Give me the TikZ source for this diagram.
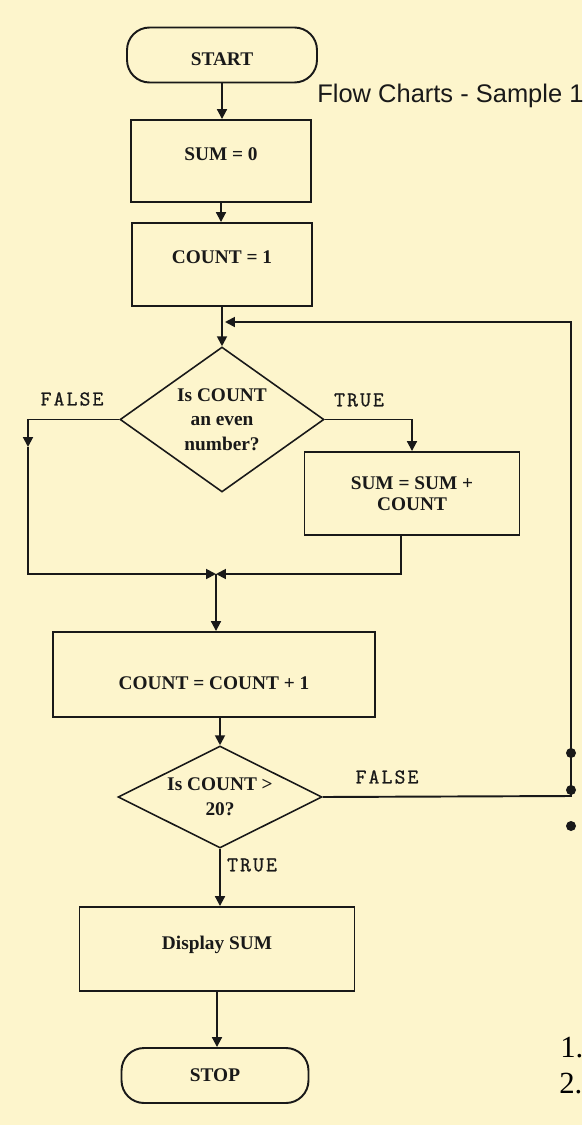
\documentclass[tikz,border=0pt]{standalone}
\usepackage{fontspec}
\setmainfont{Liberation Serif}
\newfontfamily\titlefont{Liberation Sans}
\newfontfamily\labelfont{Latin Modern Mono}[LetterSpace=10,FakeBold=1]
\usetikzlibrary{shapes.geometric,arrows.meta}
\definecolor{paper}{RGB}{253,245,204}
\definecolor{ink}{RGB}{25,25,25}
\tikzset{
	line/.style={draw=ink,line width=1.1pt},
	flow/.style={line,-{Triangle[width=5.6pt,length=5.6pt]}},
	block/.style={draw=ink,line width=1.1pt,inner sep=0pt,text=ink,font=\fontsize{11}{14}\selectfont\bfseries},
	box/.style={block,rectangle,text height=7.3pt,text depth=0pt},
	tallbox/.style={block,rectangle,align=center},
	term/.style={box,rounded corners=0.45cm},
	decision/.style={block,diamond,align=center,line width=0.9pt},
	lbl/.style={font=\labelfont\fontsize{12}{14}\selectfont,text=ink,inner sep=0pt}
}
\begin{document}
\begin{tikzpicture}[x=0.02cm,y=-0.02cm]
			\useasboundingbox (0,0) rectangle (582,1125);
			\fill [paper] (0,0) rectangle (582,1125);
			\node [term,minimum width=3.8cm,minimum height=1.1cm,text height=11.9pt] (start) at (222,55) {START};
			\node [box,minimum width=3.6cm,minimum height=1.64cm,text depth=7.8pt] (sum0) at (221,161) {SUM = 0};
			\node [box,minimum width=3.6cm,minimum height=1.66cm,text depth=8.4pt] (count1) at (222,264.5) {COUNT = 1};
			\node [decision,minimum width=4.08cm,minimum height=2.9cm,shape aspect=1.41] (d1) at (222,419.5) {Is COUNT\\an even\\number?};
			\node [tallbox,minimum width=4.3cm,minimum height=1.66cm,font=\fontsize{11}{12}\selectfont\bfseries] (sumc) at (412,493.5) {SUM = SUM +\\COUNT};
			\node [box,minimum width=6.44cm,minimum height=1.7cm,text height=16.9pt] (cc) at (214,674.5) {COUNT = COUNT + 1};
			\node [decision,minimum width=4.08cm,minimum height=2.04cm,shape aspect=2] (d2) at (220,797) {Is COUNT >\\20?};
			\node [box,minimum width=5.5cm,minimum height=1.68cm,text depth=6.8pt] (disp) at (217,949) {Display SUM};
			\node [term,minimum width=3.74cm,minimum height=1.1cm] (stop) at (215,1075.5) {STOP};
			\node [lbl] (false1) at (72,399) {FALSE};
			\node [lbl] (true1) at (359,400) {TRUE};
			\node [lbl] (false2) at (387,777) {FALSE};
			\node [lbl] (true2) at (252,865) {TRUE};
			\node [anchor=base west,inner sep=0pt,text=ink,font=\titlefont\fontsize{14.5}{17}\selectfont] (title) at (317,103) {Flow Charts - Sample 1};
			\coordinate (fdrop) at (28,447);
			\coordinate (join) at (216,574);
			\coordinate (rcorner) at (571,796);
			\coordinate (loopin) at (225,322);
			\draw [flow] (start.south) -- (start.south |- sum0.north);
			\draw [flow] (sum0.south) -- (sum0.south |- count1.north);
			\draw [flow] (count1.south) -- (count1.south |- d1.north);
			\draw [flow] (d1.east) -| (sumc.north);
			\draw [flow] (d1.west) -| (fdrop);
			\draw [flow] (fdrop) |- (join);
			\draw [flow] ([xshift=-0.22cm]sumc.south) |- (join);
			\draw [flow] (join) -- (join |- cc.north);
			\draw [flow] (d2.north |- cc.south) -- (d2.north);
			\draw [flow] (d2.east) -- (rcorner) |- (loopin);
			\draw [flow] (d2.south) -- (d2.south |- disp.north);
			\draw [flow] (disp.south) -- (disp.south |- stop.north);
			\fill [ink] (571,753) circle (0.1cm);
			\fill [ink] (571,790) circle (0.1cm);
			\fill [ink] (571,826) circle (0.1cm);
			\node [anchor=base west,inner sep=0pt,font=\fontsize{17.5}{20}\selectfont] (item1) at (560,1057) {1.};
			\node [anchor=base west,inner sep=0pt,font=\fontsize{17.5}{20}\selectfont] (item2) at (559,1093) {2.};
\end{tikzpicture}
\end{document}
